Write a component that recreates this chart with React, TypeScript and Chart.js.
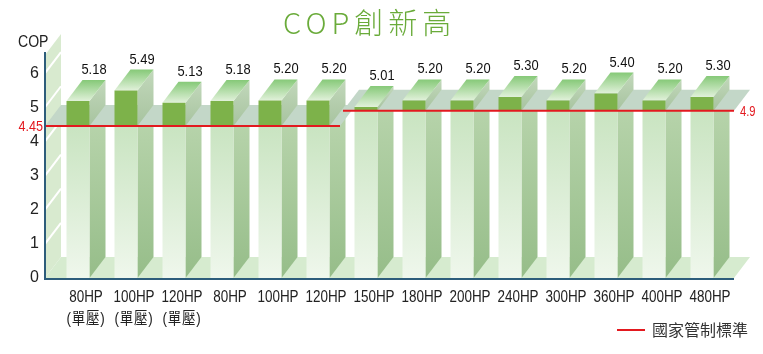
import React, { useEffect, useRef } from 'react';
import { Chart, registerables } from 'chart.js';

Chart.register(...registerables);

const categories: string[][] = [
  ['80HP', '(單壓)'], ['100HP', '(單壓)'], ['120HP', '(單壓)'],
  ['80HP'], ['100HP'], ['120HP'], ['150HP'], ['180HP'], ['200HP'], ['240HP'], ['300HP'], ['360HP'], ['400HP'], ['480HP'],
];
const copValues = [5.18, 5.49, 5.13, 5.18, 5.2, 5.2, 5.01, 5.2, 5.2, 5.3, 5.2, 5.4, 5.2, 5.3];
const standardValues = [4.45, 4.45, 4.45, 4.45, 4.45, 4.45, 4.9, 4.9, 4.9, 4.9, 4.9, 4.9, 4.9, 4.9];
const yTicks = [0, 1, 2, 3, 4, 5, 6];
const titleText = 'COP創新高';
const yAxisTitle = 'COP';
const legendText = '國家管制標準';

const DX = 16;
const DY = -21;
const SANS = "'Liberation Sans', Arial, 'Noto Sans CJK TC', sans-serif";
const FRONT_GREEN = '#7db24a';
const RED = '#e3191f';
const AXIS = '#2d5d7b';

function poly(ctx: CanvasRenderingContext2D, pts: number[][], fill: string | CanvasGradient) {
  ctx.beginPath();
  ctx.moveTo(pts[0][0], pts[0][1]);
  for (let i = 1; i < pts.length; i++) ctx.lineTo(pts[i][0], pts[i][1]);
  ctx.closePath();
  ctx.fillStyle = fill;
  ctx.fill();
}

function text(
  ctx: CanvasRenderingContext2D, s: string, x: number, y: number, font: string, color: string,
  align: CanvasTextAlign, baseline: CanvasTextBaseline, sx = 1, spacing = 0,
) {
  ctx.save();
  ctx.translate(x, y);
  ctx.scale(sx, 1);
  ctx.font = font;
  ctx.fillStyle = color;
  ctx.textAlign = align;
  ctx.textBaseline = baseline;
  (ctx as any).letterSpacing = `${spacing}px`;
  ctx.fillText(s, 0, 0);
  ctx.restore();
}

function groups() {
  const out: { start: number; end: number; value: number }[] = [];
  standardValues.forEach((v, i) => {
    const last = out[out.length - 1];
    if (last && last.value === v) last.end = i;
    else out.push({ start: i, end: i, value: v });
  });
  return out;
}

function planeRange(chart: any, gr: { start: number; end: number }) {
  const { chartArea } = chart;
  const n = copValues.length;
  const catW = (chartArea.right - chartArea.left) / n;
  const axisX = chartArea.left - 9;
  const rightEnd = chartArea.right + 8;
  const x0 = gr.start === 0 ? axisX : chartArea.left + gr.start * catW + 1;
  const x1 = gr.end === n - 1 ? rightEnd : chartArea.left + (gr.end + 1) * catW - 2;
  return [x0, x1];
}

const threeD = {
  id: 'threeD',
  beforeDatasetsDraw(chart: any) {
    const { ctx, chartArea } = chart;
    const ys = chart.scales.y;
    const meta = chart.getDatasetMeta(0);
    const base = ys.getPixelForValue(0);
    const axisX = chartArea.left - 9;
    const rightEnd = chartArea.right + 8;
    ctx.save();
    // back wall
    poly(ctx, [[axisX, base], [axisX, chartArea.top], [axisX + DX, chartArea.top + DY], [axisX + DX, base + DY]], '#d8eacf');
    ctx.strokeStyle = '#ffffff';
    ctx.lineWidth = 2;
    yTicks.forEach((t) => {
      if (t === 0) return;
      const y = ys.getPixelForValue(t);
      ctx.beginPath();
      ctx.moveTo(axisX, y);
      ctx.lineTo(axisX + DX, y + DY);
      ctx.stroke();
    });
    // floor
    poly(ctx, [[axisX, base], [rightEnd, base], [rightEnd + DX, base + DY], [axisX + DX, base + DY]], '#d6ebcf');
    // side faces below the plane
    meta.data.forEach((el: any, i: number) => {
      const fr = el.x + el.width / 2;
      const ly = ys.getPixelForValue(standardValues[i]);
      const g = ctx.createLinearGradient(0, ly, 0, base);
      g.addColorStop(0, '#b6d3aa');
      g.addColorStop(1, '#96bd89');
      poly(ctx, [[fr, ly], [fr + DX, ly + DY], [fr + DX, base + DY], [fr, base]], g);
    });
    // standard planes
    groups().forEach((gr) => {
      const ly = ys.getPixelForValue(gr.value);
      const [x0, x1] = planeRange(chart, gr);
      poly(ctx, [[x0, ly], [x1, ly], [x1 + DX, ly + DY], [x0 + DX, ly + DY]], '#c3d7c8');
    });
    // side faces above plane + top faces
    meta.data.forEach((el: any, i: number) => {
      const fl = el.x - el.width / 2;
      const fr = el.x + el.width / 2;
      const y = el.y;
      const ly = ys.getPixelForValue(standardValues[i]);
      const gs = ctx.createLinearGradient(0, y + DY, 0, ly);
      gs.addColorStop(0, '#c2d8bb');
      gs.addColorStop(1, '#a7c39f');
      poly(ctx, [[fr, y], [fr + DX, y + DY], [fr + DX, ly + DY], [fr, ly]], gs);
      const gt = ctx.createLinearGradient(0, y + DY, 0, y);
      gt.addColorStop(0, '#86c978');
      gt.addColorStop(1, '#e1f1da');
      poly(ctx, [[fl, y], [fr, y], [fr + DX, y + DY], [fl + DX, y + DY]], gt);
    });
    ctx.restore();
  },
  afterDatasetsDraw(chart: any) {
    const { ctx, chartArea } = chart;
    const ys = chart.scales.y;
    const xs = chart.scales.x;
    const meta = chart.getDatasetMeta(0);
    const base = ys.getPixelForValue(0);
    const axisX = chartArea.left - 9;
    const rightEnd = chartArea.right + 8;
    ctx.save();
    // standard red lines
    const gs = groups();
    ctx.strokeStyle = RED;
    ctx.lineWidth = 2;
    gs.forEach((gr) => {
      const ly = ys.getPixelForValue(gr.value);
      const [x0, x1] = planeRange(chart, gr);
      ctx.beginPath();
      ctx.moveTo(x0, ly);
      ctx.lineTo(x1, ly);
      ctx.stroke();
    });
    text(ctx, String(gs[0].value), axisX - 2, ys.getPixelForValue(gs[0].value) + 1, `14px ${SANS}`, RED, 'right', 'middle', 0.9);
    const lastG = gs[gs.length - 1];
    text(ctx, String(lastG.value), rightEnd + 6, ys.getPixelForValue(lastG.value) + 1, `14px ${SANS}`, RED, 'left', 'middle', 0.8);
    // axes
    ctx.strokeStyle = AXIS;
    ctx.lineWidth = 2;
    ctx.beginPath();
    ctx.moveTo(axisX, chartArea.top - 3);
    ctx.lineTo(axisX, base + 1);
    ctx.lineTo(rightEnd, base + 1);
    ctx.stroke();
    // value labels
    meta.data.forEach((el: any, i: number) => {
      text(ctx, copValues[i].toFixed(2), el.x + DX, el.y + DY - 6, `15px ${SANS}`, '#111', 'center', 'alphabetic', 0.86);
    });
    // category labels
    categories.forEach((lines, i) => {
      const cx = xs.getPixelForTick(i) + 8;
      lines.forEach((ln, j) => {
        text(ctx, ln, cx, base + 20 + j * 22, `16px ${SANS}`, '#222', 'center', 'middle', 0.84, j > 0 ? 1 : 0);
      });
    });
    // y axis title
    text(ctx, yAxisTitle, 18, 43, `16px ${SANS}`, '#222', 'left', 'middle', 0.88);
    // title
    text(ctx, titleText, 283, 34, "300 29px 'Noto Sans CJK TC', 'Noto Sans', sans-serif", '#6aab3a', 'left', 'alphabetic', 1, 5);
    // legend
    ctx.strokeStyle = RED;
    ctx.lineWidth = 2;
    ctx.beginPath();
    ctx.moveTo(617, 330);
    ctx.lineTo(645, 330);
    ctx.stroke();
    text(ctx, legendText, 652, 330, "16px 'Noto Sans CJK TC', sans-serif", '#333', 'left', 'middle', 1, 0);
    ctx.restore();
  },
};

export default function App() {
  const ref = useRef<HTMLCanvasElement | null>(null);
  useEffect(() => {
    document.body.style.margin = '0';
    const canvas = ref.current;
    if (!canvas) return;
    const chart = new Chart(canvas, {
      type: 'bar',
      data: {
        labels: categories,
        datasets: [
          {
            label: 'COP',
            data: copValues,
            borderWidth: 0,
            barPercentage: 23 / 48,
            categoryPercentage: 1,
            backgroundColor: (c: any) => {
              const ch = c.chart;
              if (!ch.chartArea || c.type !== 'data') return FRONT_GREEN;
              const ys = ch.scales.y;
              const i = c.dataIndex;
              const top = ys.getPixelForValue(copValues[i]);
              const base = ys.getPixelForValue(0);
              const ly = ys.getPixelForValue(standardValues[i]);
              const t = Math.min(Math.max((ly - top) / (base - top), 0), 1);
              const g = ch.ctx.createLinearGradient(0, top, 0, base);
              g.addColorStop(0, FRONT_GREEN);
              g.addColorStop(t, FRONT_GREEN);
              g.addColorStop(Math.min(t + 0.001, 1), '#c9e4c1');
              g.addColorStop(1, '#eff7ec');
              return g;
            },
          },
        ],
      },
      options: {
        responsive: false,
        animation: false,
        devicePixelRatio: 1,
        layout: { padding: { top: 55, right: 37, left: 0, bottom: 0 } },
        plugins: { legend: { display: false }, tooltip: { enabled: false }, title: { display: false } },
        scales: {
          x: {
            grid: { display: false, drawTicks: false },
            border: { display: false },
            ticks: { display: false, autoSkip: false, maxRotation: 0, minRotation: 0 },
            afterFit: (s: any) => { s.height = 76; },
          },
          y: {
            min: 0,
            max: 6.53,
            grid: { display: false, drawTicks: false },
            border: { display: false },
            afterBuildTicks: (s: any) => { s.ticks = yTicks.map((v) => ({ value: v })); },
            ticks: {
              padding: 15,
              color: '#222',
              font: { family: SANS, size: 16 },
            },
            afterFit: (s: any) => { s.width = 54; },
          },
        },
      },
      plugins: [threeD],
    });
    return () => chart.destroy();
  }, []);
  return (
    <div style={{ width: 763, height: 354 }}>
      <canvas ref={ref} width={763} height={354} />
    </div>
  );
}
